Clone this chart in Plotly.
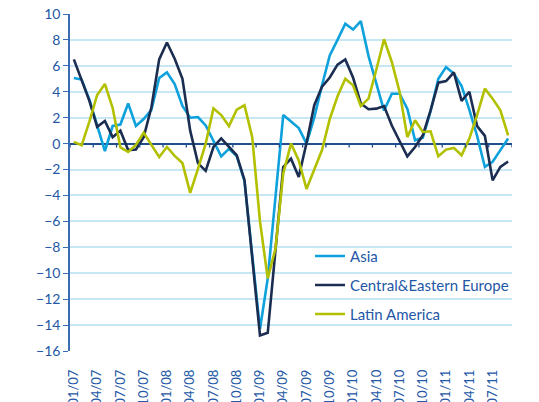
import plotly.graph_objects as go

# Monthly categories 01/07 .. 09/11
months = [f"{m:02d}/{y:02d}" for y in range(7, 12) for m in range(1, 13)][:57]

asia = [5.06, 4.94, 3.4, 1.5, -0.57, 1.36, 1.47, 3.1, 1.36, 1.9,
        2.6, 5.06, 5.5, 4.6, 2.9, 2.0, 2.05, 1.4, 0.26, -0.98,
        -0.4, -0.95, -2.9, -8.5, -14.3, -10.4, -4.0, 2.2, 1.7, 1.2,
        0.0, 2.0, 4.5, 6.8, 8.0, 9.25, 8.8, 9.45, 6.75, 4.6,
        2.55, 3.85, 3.85, 2.7, 0.26, 0.45, 2.5, 5.0, 5.9, 5.4,
        4.45, 2.6, 0.6, -1.8, -1.4, -0.5, 0.4]

cee = [6.5, 4.9, 3.3, 1.3, 1.75, 0.5, 1.0, -0.5, -0.45, 0.5,
       2.8, 6.5, 7.8, 6.55, 5.0, 1.0, -1.5, -2.1, -0.26, 0.4,
       -0.22, -0.9, -2.8, -8.7, -14.8, -14.6, -8.5, -1.8, -1.16, -2.57,
       0.05, 2.96, 4.4, 5.1, 6.1, 6.5, 5.1, 3.1, 2.65, 2.7,
       2.9, 1.4, 0.2, -0.98, -0.26, 0.64, 2.57, 4.7, 4.83, 5.5,
       3.3, 4.0, 1.35, 0.6, -2.83, -1.8, -1.38]

latam = [0.13, -0.13, 1.7, 3.75, 4.6, 2.75, -0.3, -0.64, -0.1, 0.85,
         -0.1, -1.03, -0.26, -0.95, -1.5, -3.8, -1.95, 0.0, 2.72, 2.2,
         1.35, 2.62, 2.96, 0.5, -6.0, -10.4, -8.1, -2.3, 0.0, -1.3,
         -3.5, -2.0, -0.5, 1.9, 3.65, 5.0, 4.5, 2.9, 3.47, 5.7,
         8.05, 6.3, 4.0, 0.5, 1.8, 0.9, 0.95, -0.98, -0.46, -0.33,
         -0.9, 0.39, 2.2, 4.24, 3.47, 2.57, 0.64]

series_names = ["Asia", "Central&Eastern Europe", "Latin America"]
series_colors = ["#0ea1dc", "#1b2d50", "#b2c000"]
y_ticks = list(range(-16, 11, 2))

label_idx = list(range(0, len(months), 3))
label_txt = [months[i] for i in label_idx]
tick_bounds = [i - 0.5 for i in range(0, len(months) + 1, 3)]

TXT = "#2457a6"
FONT = "Lato"

fig = go.Figure()
x = list(range(len(months)))
for name, vals, col in zip(series_names, [asia, cee, latam], series_colors):
    fig.add_trace(go.Scatter(x=x, y=vals, mode="lines", name=name, legendgroup=name,
                             line=dict(color=col, width=2.6)))

for b in tick_bounds:
    fig.add_shape(type="line", xref="x", yref="y", x0=b, x1=b,
                  ysizemode="pixel", yanchor=0, y0=0, y1=-4,
                  line=dict(color="#1f4f8f", width=1.3))

# page body has an 8px default margin: offset plot margins to compensate
fig.update_layout(
    width=539, height=402,
    margin=dict(l=62, r=35, t=5.7, b=59),
    paper_bgcolor="white", plot_bgcolor="white",
    font=dict(family=FONT, color=TXT),
    showlegend=True,
    legend=dict(x=0.543, y=0.33, xanchor="left", yanchor="top",
                font=dict(size=15, color=TXT, family=FONT),
                bgcolor="rgba(0,0,0,0)", itemwidth=30,
                traceorder="grouped", tracegroupgap=6.5),
    xaxis=dict(range=[-0.5, len(months) - 0.5], tickvals=label_idx, ticktext=label_txt,
               tickangle=-90, showgrid=False, zeroline=False, showline=False,
               ticks="", tickfont=dict(size=13, color=TXT, family=FONT),
               ticklabelstandoff=15, ticklabeloverflow="allow", automargin=False),
    yaxis=dict(range=[-16, 10], tickvals=y_ticks, showgrid=True,
               gridcolor="#c8e7f5", gridwidth=1.6,
               zeroline=True, zerolinecolor="#1f4f8f", zerolinewidth=1.6,
               showline=True, linecolor="#3a6db3", linewidth=1.5,
               ticks="outside", ticklen=5, tickcolor="#3a6db3", tickwidth=1.3,
               ticklabeloverflow="allow",
               tickfont=dict(size=14, color=TXT, family=FONT), automargin=False),
)

fig.write_html("out.html")
